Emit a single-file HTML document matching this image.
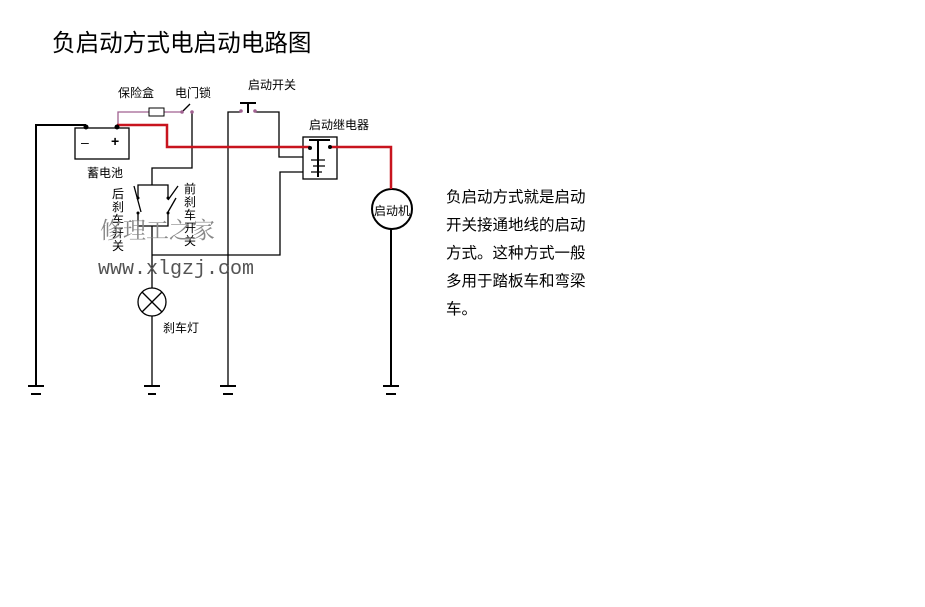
<!DOCTYPE html>
<html><head><meta charset="utf-8"><style>
body{margin:0;background:#fff;width:925px;height:607px;overflow:hidden;font-family:"Liberation Sans","Noto Sans CJK SC",sans-serif}
svg{position:absolute;left:0;top:0}
.t{position:absolute;white-space:nowrap;color:#000}
</style></head><body>
<svg width="925" height="607" viewBox="0 0 925 607">
<g stroke="#000" stroke-width="1.3" fill="none">
<polyline points="86,125 36,125 36,386" stroke-width="2"/>
<rect x="75" y="128" width="54" height="31" fill="#fff"/>
<polyline points="118,125 118,112 149,112" stroke="#a06090"/>
<line x1="164" y1="112" x2="182" y2="112" stroke="#a06090"/>
<rect x="149" y="108" width="15" height="8" stroke="#000" stroke-width="1"/>
<line x1="182" y1="112" x2="190" y2="104"/>
<polyline points="192,112 192,168 152,168 152,185"/>
<polyline points="138,198 138,185 168,185 168,198"/>
<line x1="134" y1="186" x2="141" y2="212"/>
<line x1="168" y1="200" x2="178" y2="186"/><line x1="168" y1="212" x2="176" y2="198"/>
<polyline points="138,213 138,226 168,226 168,213"/>
<line x1="152" y1="226" x2="152" y2="288"/>
<line x1="152" y1="316" x2="152" y2="386"/>
<circle cx="152" cy="302" r="14"/>
<line x1="142" y1="292" x2="162" y2="312"/><line x1="162" y1="292" x2="142" y2="312"/>
<polyline points="152,255 280,255 280,172 303,172"/>
<polyline points="228,386 228,112 241,112"/>
<polyline points="255,112 279,112 279,157 303,157"/>
<line x1="240" y1="103" x2="256" y2="103" stroke-width="2"/>
<line x1="248" y1="103" x2="248" y2="113" stroke-width="2"/>
<rect x="303" y="137" width="34" height="42"/>
<line x1="309" y1="140" x2="330" y2="140" stroke-width="2"/>
<line x1="318" y1="140" x2="318" y2="177" stroke-width="2"/>
<path d="M311 160 H325 M313 166 H325 M311 172 H322"/>
<line x1="391" y1="228" x2="391" y2="386" stroke-width="2"/>
<circle cx="392" cy="209" r="20" stroke-width="2"/>
<g stroke-width="2">
<path d="M28 386H44M31 394H41"/>
<path d="M144 386H160M148 394H156"/>
<path d="M220 386H236M223 394H233"/>
<path d="M383 386H399M386 394H396"/>
</g>
</g>
<polyline points="117,125 167,125 167,147 310,147" stroke="#c8141e" stroke-width="2.5" fill="none"/>
<polyline points="330,147 391,147 391,189" stroke="#c8141e" stroke-width="2.5" fill="none"/>
<g fill="#000">
<circle cx="86" cy="127" r="2.5"/><circle cx="117" cy="127" r="2.5"/>
<circle cx="310" cy="148" r="2"/><circle cx="330" cy="147" r="2"/>
<circle cx="138" cy="198" r="1.5"/><circle cx="168" cy="198" r="1.5"/>
<circle cx="138" cy="213" r="1.5"/><circle cx="168" cy="213" r="1.5"/>
</g>
<g fill="#a06090"><circle cx="182" cy="112" r="1.8"/><circle cx="192" cy="112" r="1.8"/><circle cx="241" cy="111" r="1.8"/><circle cx="255" cy="111" r="1.8"/></g>
<text x="81" y="147" font-size="14" font-family="Liberation Sans">–</text>
<text x="111" y="146" font-size="14" font-family="Liberation Sans" font-weight="bold">+</text>
</svg>
<div class="t" style="left:52px;top:24px;font-size:23.6px">负启动方式电启动电路图</div>
<div class="t" style="left:118px;top:84px;font-size:12px">保险盒</div>
<div class="t" style="left:175px;top:84px;font-size:12px">电门锁</div>
<div class="t" style="left:248px;top:76px;font-size:12px">启动开关</div>
<div class="t" style="left:309px;top:116px;font-size:12px">启动继电器</div>
<div class="t" style="left:87px;top:164px;font-size:12px">蓄电池</div>
<div class="t" style="left:112px;top:188px;font-size:12px;line-height:13px;width:12px;white-space:normal">后刹车开关</div>
<div class="t" style="left:184px;top:183px;font-size:12px;line-height:13px;width:12px;white-space:normal">前刹车开关</div>
<div class="t" style="left:163px;top:319px;font-size:12px">刹车灯</div>
<div class="t" style="left:374px;top:202px;font-size:12px">启动机</div>
<div class="t" style="left:100px;top:212px;font-size:23px;color:#888;font-family:'Liberation Serif','Noto Serif CJK SC',serif">修理工之家</div>
<div class="t" style="left:98px;top:258px;font-size:20px;color:#555;font-family:'Liberation Mono',monospace">www.xlgzj.com</div>
<div class="t" style="left:446px;top:184px;font-size:15.5px;line-height:28px">负启动方式就是启动<br>开关接通地线的启动<br>方式。这种方式一般<br>多用于踏板车和弯梁<br>车。</div>
</body></html>
